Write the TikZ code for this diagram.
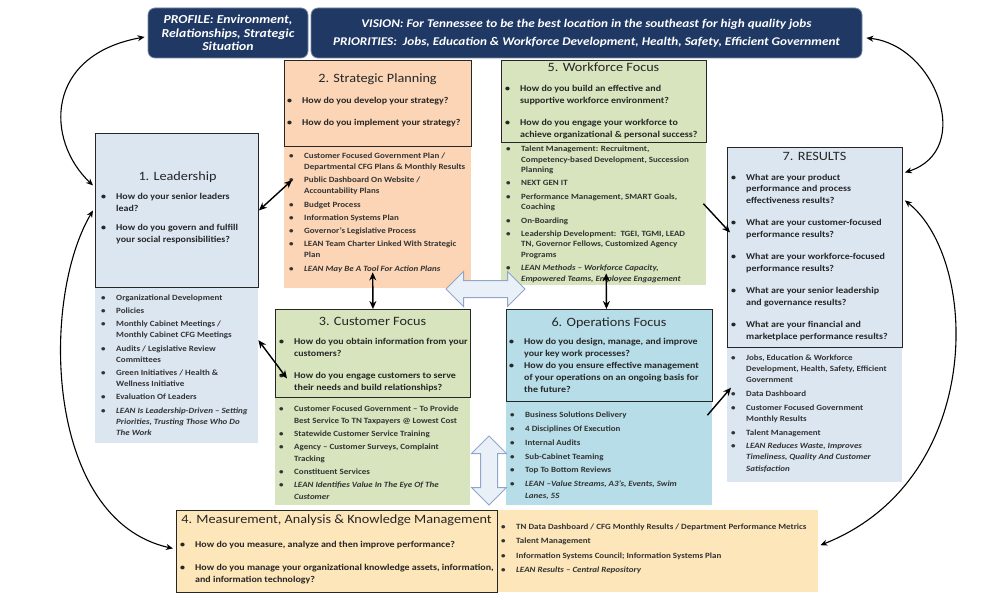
\documentclass[tikz,border=0pt]{standalone}
\usepackage{fontspec}
\setmainfont{Carlito}[FakeStretch=1.12]
\usetikzlibrary{arrows.meta, positioning, shapes.arrows}
\definecolor{cnavy}{HTML}{1F3864}
\definecolor{cslate}{HTML}{DCE6F1}
\definecolor{cpeach}{HTML}{FBD5B5}
\definecolor{cgreen}{HTML}{D7E4BD}
\definecolor{caqua}{HTML}{B7DDE8}
\definecolor{csand}{HTML}{FCE6BA}
\definecolor{carrow}{HTML}{8FA6C9}
\definecolor{carrowfill}{HTML}{EAF0F8}
\newcommand\bu{\makebox[15pt][l]{\textbullet}}
\newcommand\ct{\hspace*{15pt}}

\begin{document}
\begin{tikzpicture}[x=1pt, y=1pt,
  hdr/.style={draw=black!85, line width=0.9pt, inner sep=0pt, anchor=north west},
  lst/.style={inner sep=0pt, anchor=north west},
  banner/.style={fill=cnavy, draw=cnavy!60, line width=0.8pt, rounded corners=7pt, text=white, align=center, inner sep=0pt},
  ttl/.style={font=\fontsize{12.7}{15}\selectfont, text=black!85, inner sep=0pt},
  qtx/.style={font=\bfseries\fontsize{8.9}{12}\selectfont, text=black!85, align=left, anchor=north west, inner sep=0pt},
  ltx/.style={font=\bfseries\fontsize{8}{11.2}\selectfont, text=black!80, align=left, anchor=north west, inner sep=0pt},
  link/.style={{Stealth[length=8pt,width=7pt]}-{Stealth[length=8pt,width=7pt]}, line width=1.4pt},
  feed/.style={-{Stealth[length=8pt,width=7pt]}, line width=1.4pt},
  loopy/.style={{Stealth[length=7pt,width=6pt]}-{Stealth[length=7pt,width=6pt]}, line width=1.1pt},
  hollow/.style={double arrow, draw=carrow, fill=carrowfill, line width=1pt, inner xsep=0pt, inner ysep=8pt, double arrow head extend=9pt}
]
\useasboundingbox (0,0) rectangle (1000,-604);

% banner
\node[banner, minimum width=160, minimum height=50, font=\bfseries\itshape\fontsize{12.2}{13.5}\selectfont] (prof) at (228,-33) {PROFILE: Environment,\\Relationships, Strategic\\Situation};
\node[banner, minimum width=551, minimum height=50, font=\bfseries\itshape\fontsize{11.8}{18}\selectfont] (vis) at (586.5,-33) {VISION: For Tennessee to be the best location in the southeast for high quality jobs\\PRIORITIES:\ \ Jobs, Education \& Workforce Development, Health, Safety, Efficient Government};

% lower halves
\node[lst, fill=cslate, minimum width=163, minimum height=156] (leadL) at (95,-287) {};
\node[lst, fill=cpeach, minimum width=187, minimum height=142] (stratL) at (284,-146) {};
\node[lst, fill=cgreen, minimum width=205, minimum height=143] (workL) at (501,-142) {};
\node[lst, fill=cslate, minimum width=175, minimum height=135] (resL) at (727,-347) {};
\node[lst, fill=cgreen, minimum width=195, minimum height=108] (custL) at (275,-397) {};
\node[lst, fill=caqua, minimum width=206, minimum height=104] (opsL) at (506,-401) {};
\node[lst, fill=csand, minimum width=321, minimum height=82] (measL) at (497,-510) {};

% upper halves
\node[hdr, fill=cslate, minimum width=163, minimum height=154] (lead) at (95,-133) {};
\node[hdr, fill=cpeach, minimum width=187, minimum height=86] (strat) at (284,-60) {};
\node[hdr, fill=cgreen, minimum width=205, minimum height=82] (work) at (501,-60) {};
\node[hdr, fill=cslate, minimum width=175, minimum height=200] (res) at (727,-147) {};
\node[hdr, fill=cgreen, minimum width=195, minimum height=88] (cust) at (275,-309) {};
\node[hdr, fill=caqua, minimum width=206, minimum height=92] (ops) at (506,-309) {};
\node[hdr, fill=csand, minimum width=321, minimum height=82] (meas) at (176,-510) {};

% 1. Leadership
\node[ttl] (leadT) at (177.5,-177) {1. Leadership};
\node[qtx] (leadQ) at (101,-193) {\bu How do your senior leaders\\ \ct lead?\\[7pt]
  \bu How do you govern and fulfill\\ \ct your social responsibilities?};
\node[ltx] (leadLt) at (101,-294.5) {\bu Organizational Development\\[2pt]
  \bu Policies\\[2pt]
  \bu Monthly Cabinet Meetings /\\ \ct Monthly Cabinet CFG Meetings\\[2pt]
  \bu Audits / Legislative Review\\ \ct Committees\\[2pt]
  \bu Green Initiatives / Health \&\\ \ct Wellness Initiative\\[2pt]
  \bu Evaluation Of Leaders\\[2pt]
  \bu \textit{LEAN Is Leadership-Driven -- Setting}\\ \ct \textit{Priorities, Trusting Those Who Do}\\ \ct \textit{The Work}};

% 2. Strategic Planning
\node[ttl] (stratT) at (377.5,-79) {2. Strategic Planning};
\node[qtx] (stratQ) at (287,-97) {\bu How do you develop your strategy?\\[10pt]
  \bu How do you implement your strategy?};
\node[ltx] (stratLt) at (289,-152.5) {\bu Customer Focused Government Plan /\\ \ct Departmental CFG Plans \& Monthly Results\\[2pt]
  \bu Public Dashboard On Website /\\ \ct Accountability Plans\\[2pt]
  \bu Budget Process\\[2pt]
  \bu Information Systems Plan\\[2pt]
  \bu Governor's Legislative Process\\[2pt]
  \bu LEAN Team Charter Linked With Strategic\\ \ct Plan\\[2pt]
  \bu \textit{LEAN May Be A Tool For Action Plans}};

% 5. Workforce Focus
\node[ttl] (workT) at (603.5,-67) {5. Workforce Focus};
\node[qtx] (workQ) at (505,-85) {\bu How do you build an effective and\\ \ct supportive workforce environment?\\[10pt]
  \bu How do you engage your workforce to\\ \ct achieve organizational \& personal success?};
\node[ltx, font=\bfseries\fontsize{8}{10.7}\selectfont] (workLt) at (506,-145.5) {\bu Talent Management: Recruitment,\\ \ct Competency-based Development, Succession\\ \ct Planning\\[2.5pt]
  \bu NEXT GEN IT\\[2.5pt]
  \bu Performance Management, SMART Goals,\\ \ct Coaching\\[2.5pt]
  \bu On-Boarding\\[2.5pt]
  \bu Leadership Development:\ \ TGEI, TGMI, LEAD\\ \ct TN, Governor Fellows, Customized Agency\\ \ct Programs\\[2.5pt]
  \bu \textit{LEAN Methods -- Workforce Capacity,}\\ \ct \textit{Empowered Teams, Employee Engagement}};

% 7. Results
\node[ttl] (resT) at (814.5,-156) {7. RESULTS};
\node[qtx, font=\bfseries\fontsize{8.9}{11.5}\selectfont] (resQ) at (731,-174) {\bu What are your product\\ \ct performance and process\\ \ct effectiveness results?\\[11pt]
  \bu What are your customer-focused\\ \ct performance results?\\[11pt]
  \bu What are your workforce-focused\\ \ct performance results?\\[11pt]
  \bu What are your senior leadership\\ \ct and governance results?\\[11pt]
  \bu What are your financial and\\ \ct marketplace performance results?};
\node[ltx] (resLt) at (731,-354.5) {\bu Jobs, Education \& Workforce\\ \ct Development, Health, Safety, Efficient\\ \ct Government\\[2.5pt]
  \bu Data Dashboard\\[2.5pt]
  \bu Customer Focused Government\\ \ct Monthly Results\\[2.5pt]
  \bu Talent Management\\[2.5pt]
  \bu \textit{LEAN Reduces Waste, Improves}\\ \ct \textit{Timeliness, Quality And Customer}\\ \ct \textit{Satisfaction}};

% 3. Customer Focus
\node[ttl] (custT) at (372.5,-321) {3. Customer Focus};
\node[qtx] (custQ) at (279,-338) {\bu How do you obtain information from your\\ \ct customers?\\[10pt]
  \bu How do you engage customers to serve\\ \ct their needs and build relationships?};
\node[ltx, font=\bfseries\fontsize{8}{12}\selectfont] (custLt) at (279,-405.5) {\bu Customer Focused Government -- To Provide\\ \ct Best Service To TN Taxpayers @ Lowest Cost\\[1pt]
  \bu Statewide Customer Service Training\\[1pt]
  \bu Agency -- Customer Surveys, Complaint\\ \ct Tracking\\[1pt]
  \bu Constituent Services\\[1pt]
  \bu \textit{LEAN Identifies Value In The Eye Of The}\\ \ct \textit{Customer}};

% 6. Operations Focus
\node[ttl] (opsT) at (609,-323) {6. Operations Focus};
\node[qtx] (opsQ) at (509,-338) {\bu How do you design, manage, and improve\\ \ct your key work processes?\\
  \bu How do you ensure effective management\\ \ct of your operations on an ongoing basis for\\ \ct the future?};
\node[ltx] (opsLt) at (510,-411.5) {\bu Business Solutions Delivery\\[2.7pt]
  \bu 4 Disciplines Of Execution\\[2.7pt]
  \bu Internal Audits\\[2.7pt]
  \bu Sub-Cabinet Teaming\\[2.7pt]
  \bu Top To Bottom Reviews\\[2.7pt]
  \bu \textit{LEAN --Value Streams, A3's, Events, Swim}\\ \ct \textit{Lanes, 5S}};

% 4. Measurement
\node[ttl] (measT) at (336.5,-520) {4. Measurement, Analysis \& Knowledge Management};
\node[qtx] (measQ) at (180,-541) {\bu How do you measure, analyze and then improve performance?\\[11pt]
  \bu How do you manage your organizational knowledge assets, information,\\ \ct and information technology?};
\node[ltx] (measLt) at (501,-523.5) {\bu TN Data Dashboard / CFG Monthly Results / Department Performance Metrics\\[3.3pt]
  \bu Talent Management\\[3.3pt]
  \bu Information Systems Council; Information Systems Plan\\[3.3pt]
  \bu \textit{LEAN Results -- Central Repository}};

% straight links
\draw[link] (lead.east) -- ([shift={(8,37)}]stratL.west);
\draw[link] ([yshift=25]leadL.east) -- ([shift={(12,-25)}]cust.west);
\draw[link] ([shift={(-5,16)}]stratL.south) -- (cust.north);
\draw[link] ([shift={(2.5,12)}]workL.south) -- ([xshift=-3]ops.north);
\draw[feed] ([shift={(-3,10)}]workL.east) -- ([shift={(3,15)}]res.west);
\draw[feed] ([shift={(-5,38)}]opsL.east) -- ([shift={(4,27)}]resL.west);

% outer loops
\draw[loopy] ([shift={(-2,25)}]lead.west) .. controls (45,-140) and (45,-55) .. ([shift={(-3,-4)}]prof.west);
\draw[loopy] ([xshift=-2]lead.west) .. controls (40,-300) and (45,-520) .. ([shift={(-3,3)}]meas.west);
\draw[loopy] ([shift={(4,-5)}]vis.east) .. controls (935,-45) and (975,-150) .. ([shift={(2,75)}]res.east);
\draw[loopy] ([shift={(2,47)}]res.east) .. controls (980,-260) and (985,-480) .. ([shift={(2,6)}]measL.east);

% hollow arrows
\node[hollow, minimum height=79pt] (harr) at (485.5,-289) {};
\node[hollow, minimum height=69pt, rotate=90] (varr) at (489,-470.5) {};
\end{tikzpicture}
\end{document}
